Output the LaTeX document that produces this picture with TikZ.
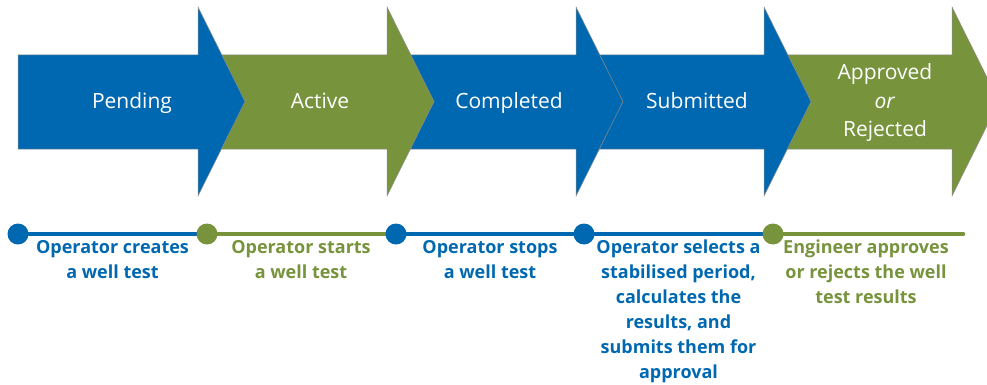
\documentclass[tikz,border=0pt]{standalone}
\usepackage{fontspec}
\setmainfont{Open Sans}
\usetikzlibrary{backgrounds}
\definecolor{wtblue}{RGB}{0,104,176}
\definecolor{wtgreen}{RGB}{119,147,60}
\tikzset{
  stagelabel/.style={text=white, font=\fontsize{21}{28.5}\selectfont, align=center, inner sep=0pt},
  steptext/.style={font=\bfseries\fontsize{18}{25}\selectfont, align=center, inner sep=0pt, anchor=north},
  dot/.style={circle, fill=#1, minimum size=21pt, inner sep=0pt},
  tline/.style={line width=4.6pt, draw=#1},
  arrowedge/.style={draw=black!45, line width=0.5pt, line join=miter}
}
\newcommand\stagearrow[3]{%
  \filldraw[fill=#1, arrowedge] (#2,55) -- (#3,55) -- (#3,7) -- ({#3+47},101.5) -- (#3,196) -- (#3,149) -- (#2,149) -- cycle;}
\begin{document}
\begin{tikzpicture}[x=1pt, y=-1pt]
  \useasboundingbox (0,0) rectangle (987,385);
  \clip (0,0) rectangle (987,385);
  % stage arrows, drawn right to left so each overlaps the next
  \stagearrow{wtgreen}{764}{952}
  \stagearrow{wtblue}{576}{764}
  \stagearrow{wtblue}{387}{576}
  \stagearrow{wtgreen}{198}{387}
  \stagearrow{wtblue}{18}{198}
  \node[stagelabel, anchor=base] (pending) at (132,109) {Pending};
  \node[stagelabel, anchor=base] (active) at (320,109) {Active};
  \node[stagelabel, anchor=base] (completed) at (509,109) {Completed};
  \node[stagelabel, anchor=base] (submitted) at (697,109) {Submitted};
  \node[stagelabel] (approved) at (885,103) {Approved\\\textit{or}\\Rejected};
  % timeline
  \node[dot=wtblue] (d1) at (18,234) {};
  \node[dot=wtgreen] (d2) at (207,234) {};
  \node[dot=wtblue] (d3) at (396,234) {};
  \node[dot=wtblue] (d4) at (584,234) {};
  \node[dot=wtgreen] (d5) at (773,234) {};
  \coordinate (tend) at (963,234);
  \begin{pgfonlayer}{background}
    \draw[tline=wtblue] (d1.center) -- (d2.center);
    \draw[tline=wtgreen] (d2.center) -- (d3.center);
    \draw[tline=wtblue] (d3.center) -- (d4.center);
    \draw[tline=wtblue] (d4.center) -- (d5.center);
    \draw[tline=wtgreen, line cap=round] (d5.center) -- (tend);
  \end{pgfonlayer}
  \node[steptext, text=wtblue] (t1) at (112.5,240) {Operator creates\\a well test};
  \node[steptext, text=wtgreen] (t2) at (301,240) {Operator starts\\a well test};
  \node[steptext, text=wtblue] (t3) at (490,240) {Operator stops\\a well test};
  \node[steptext, text=wtblue] (t4) at (678.5,240) {Operator selects a\\stabilised period,\\calculates the\\results, and\\submits them for\\approval};
  \node[steptext, text=wtgreen] (t5) at (866,240) {Engineer approves\\or rejects the well\\test results};
\end{tikzpicture}
\end{document}
